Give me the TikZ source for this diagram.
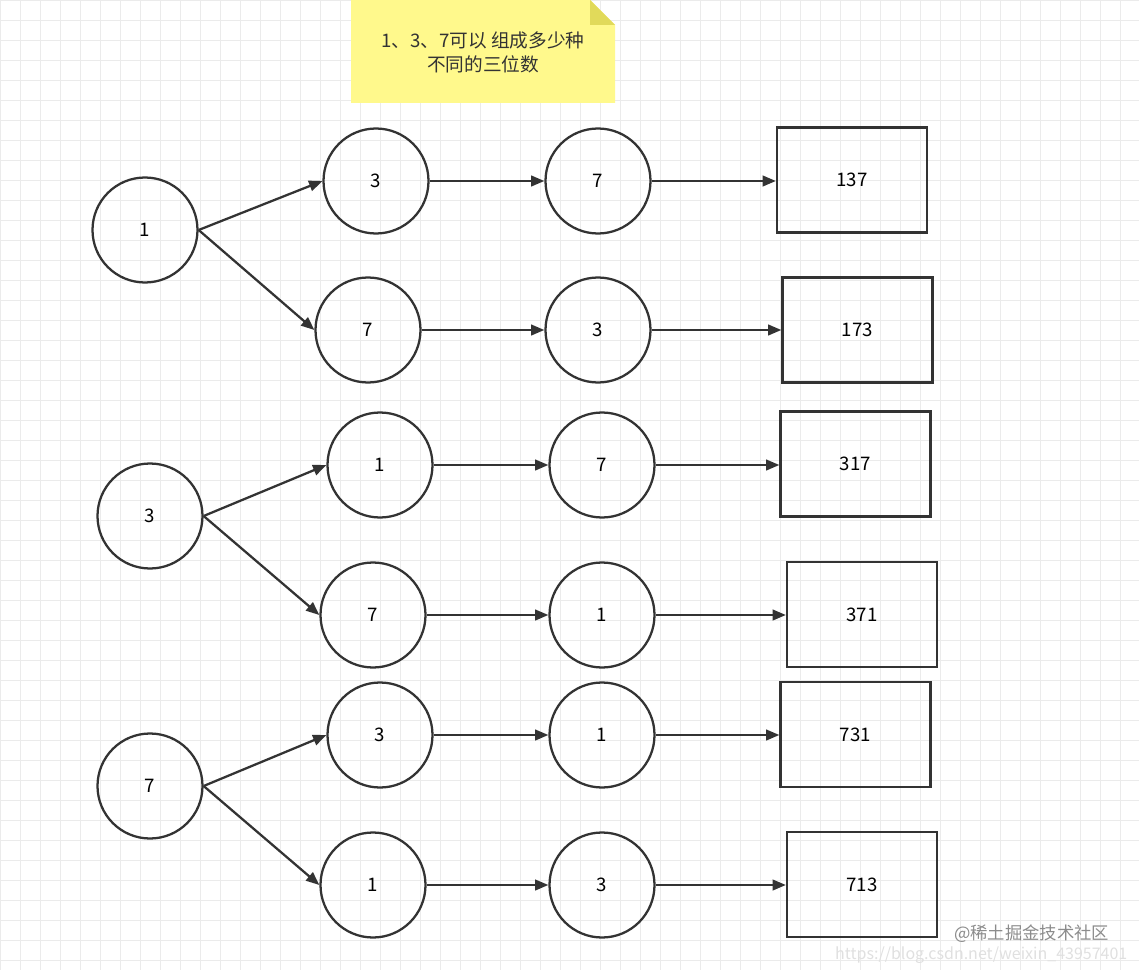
\documentclass[tikz,border=0pt]{standalone}
\usepackage{fontspec}
\setmainfont{Noto Sans CJK SC}
\usetikzlibrary{arrows.meta}
\definecolor{ln}{HTML}{333333}
\begin{document}
\begin{tikzpicture}[x=0.75pt,y=-0.75pt,
  c/.style={circle,draw=ln,line width=1.7pt,minimum size=78.75pt,inner sep=0pt,font=\fontsize{14}{16}\selectfont},
  b/.style={rectangle,draw=ln,line width=1.7pt,minimum width=112.5pt,minimum height=78.75pt,inner sep=0pt,font=\fontsize{14}{16}\selectfont},
  ar/.style={draw=ln,line width=1.7pt,-{Triangle[length=10pt,width=8pt]}}]
\fill[white] (0,0) rectangle (1139,970);
\useasboundingbox (0,0) rectangle (1139,970);
\foreach \k in {0,20,...,1139}{\draw[black!8,line width=0.6pt] (\k,0) -- (\k,970);}
\foreach \k in {0,20,...,970}{\draw[black!8,line width=0.6pt] (0,\k) -- (1139,\k);}
% note
\fill[yellow!45!white] (351,0) -- (590,0) -- (615,25) -- (615,103) -- (351,103) -- cycle;
\fill[olive!45!yellow!60!white] (590,0) -- (615,25) -- (590,25) -- cycle;
\node[font=\fontsize{14}{18}\selectfont,align=center,text=ln] (note) at (483,52) {1、3、7可以 组成多少种\\不同的三位数};
% nodes
\node[c] (r1) at (145,230) {1};
\node[c] (r3) at (150,516) {3};
\node[c] (r7) at (150,786) {7};
\node[c] (a1) at (376,181) {3};
\node[c] (a2) at (368,330) {7};
\node[c] (a3) at (380,465) {1};
\node[c] (a4) at (373,615) {7};
\node[c] (a5) at (380,735) {3};
\node[c] (a6) at (373,885) {1};
\node[c] (b1) at (598,181) {7};
\node[c] (b2) at (598,330) {3};
\node[c] (b3) at (602,465) {7};
\node[c] (b4) at (602,615) {1};
\node[c] (b5) at (602,735) {1};
\node[c] (b6) at (602,885) {3};
\node[b] (e1) at (852,180) {137};
\node[b] (e2) at (857.5,330) {173};
\node[b] (e3) at (855.5,464) {317};
\node[b] (e4) at (862,614.5) {371};
\node[b] (e5) at (855.5,734.5) {731};
\node[b] (e6) at (862,884.5) {713};
\draw[ar] (r1.east) -- (a1.west);
\draw[ar] (r1.east) -- (a2.west);
\draw[ar] (r3.east) -- (a3.west);
\draw[ar] (r3.east) -- (a4.west);
\draw[ar] (r7.east) -- (a5.west);
\draw[ar] (r7.east) -- (a6.west);
\foreach \i in {1,...,6}{
  \draw[ar] (a\i.east) -- (b\i.west|-a\i.east);
  \draw[ar] (b\i.east) -- (e\i.west|-b\i.east);
}
\node[text=black!45,font=\fontsize{13}{15}\selectfont,anchor=east] (wm1) at (1114,934) {@稀土掘金技术社区};
\node[text=black!12,font=\fontsize{12}{14}\selectfont,anchor=east] (wm2) at (1132,955) {https://blog.csdn.net/weixin\_43957401};
\end{tikzpicture}
\end{document}
